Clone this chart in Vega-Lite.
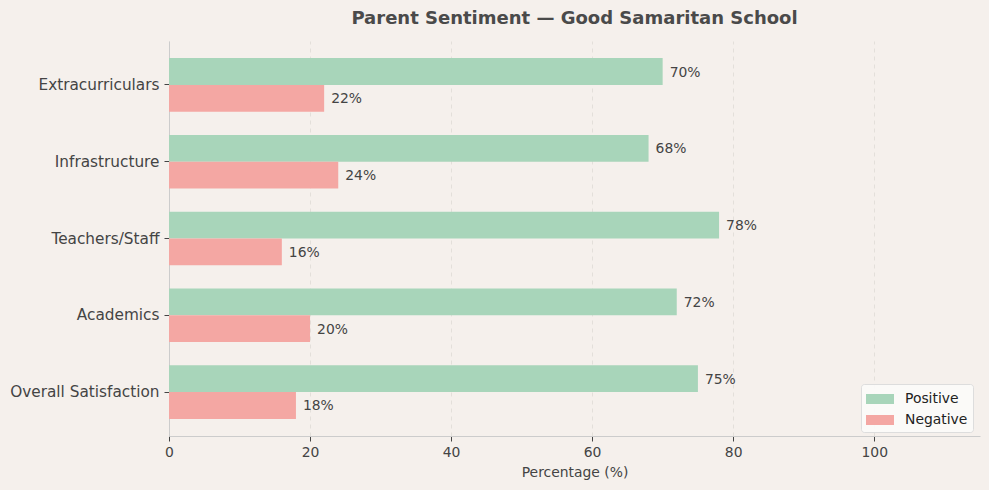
{
  "$schema": "https://vega.github.io/schema/vega-lite/v6.json",
  "autosize": {"type": "none"},
  "width": 811,
  "height": 395,
  "padding": {"left": 169, "top": 41, "right": 9, "bottom": 54},
  "background": "#f5f0ec",
  "title": {
    "text": "Parent Sentiment — Good Samaritan School",
    "font": "DejaVu Sans",
    "fontSize": 18,
    "fontWeight": "bold",
    "color": "#4a4a4a",
    "anchor": "middle",
    "offset": 13
  },
  "config": {
    "font": "DejaVu Sans",
    "view": {"stroke": null},
    "axis": {"domainColor": "#cccccc", "tickColor": "#444444", "labelColor": "#444444", "titleColor": "#444444"}
  },
  "data": {
    "values": [
      {"Category": "Extracurriculars", "Sentiment": "Positive", "Value": 70},
      {"Category": "Extracurriculars", "Sentiment": "Negative", "Value": 22},
      {"Category": "Infrastructure", "Sentiment": "Positive", "Value": 68},
      {"Category": "Infrastructure", "Sentiment": "Negative", "Value": 24},
      {"Category": "Teachers/Staff", "Sentiment": "Positive", "Value": 78},
      {"Category": "Teachers/Staff", "Sentiment": "Negative", "Value": 16},
      {"Category": "Academics", "Sentiment": "Positive", "Value": 72},
      {"Category": "Academics", "Sentiment": "Negative", "Value": 20},
      {"Category": "Overall Satisfaction", "Sentiment": "Positive", "Value": 75},
      {"Category": "Overall Satisfaction", "Sentiment": "Negative", "Value": 18}
    ]
  },
  "encoding": {
    "y": {
      "field": "Category",
      "type": "nominal",
      "sort": ["Extracurriculars", "Infrastructure", "Teachers/Staff", "Academics", "Overall Satisfaction"],
      "scale": {"paddingInner": 0.3, "paddingOuter": 0.223},
      "axis": {"title": null, "labelFontSize": 15.3, "tickSize": 5, "labelPadding": 5, "domainColor": "#cccccc"}
    },
    "yOffset": {
      "field": "Sentiment",
      "type": "nominal",
      "sort": ["Positive", "Negative"],
      "scale": {"paddingInner": 0, "paddingOuter": 0}
    },
    "x": {
      "field": "Value",
      "type": "quantitative",
      "scale": {"domain": [0, 115], "nice": false},
      "axis": {
        "title": "Percentage (%)",
        "titleFontSize": 13.9,
        "titleFontWeight": "normal",
        "titlePadding": 7,
        "values": [0, 20, 40, 60, 80, 100],
        "labelFontSize": 13.9,
        "labelFlush": false,
        "labelPadding": 4,
        "tickSize": 5,
        "grid": true,
        "gridColor": "#dedad6",
        "gridDash": [4, 4],
        "gridWidth": 0.8
      }
    }
  },
  "layer": [
    {
      "mark": {"type": "bar"},
      "encoding": {
        "color": {
          "field": "Sentiment",
          "type": "nominal",
          "scale": {"domain": ["Positive", "Negative"], "range": ["#a8d5ba", "#f4a7a3"]},
          "legend": {
            "title": null,
            "orient": "none",
            "legendX": 692,
            "legendY": 343,
            "symbolType": "M-1.4,-0.5H1.4V0.5H-1.4Z",
            "symbolSize": 400,
            "symbolStrokeWidth": 0,
            "symbolOpacity": 1,
            "labelFontSize": 13.9,
            "labelColor": "#222222",
            "rowPadding": 4,
            "symbolOffset": 4,
            "padding": 5,
            "fillColor": "rgba(252,251,250,0.9)",
            "strokeColor": "#dddddd",
            "cornerRadius": 3,
            "labelOffset": 15
          }
        }
      }
    },
    {
      "transform": [{"calculate": "datum.Value + '%'", "as": "Label"}],
      "mark": {"type": "text", "align": "left", "baseline": "middle", "dx": 7, "dy": 1, "fontSize": 13.9, "color": "#444444"},
      "encoding": {
        "text": {"field": "Label", "type": "nominal"},
        "detail": {"field": "Sentiment"}
      }
    }
  ]
}
